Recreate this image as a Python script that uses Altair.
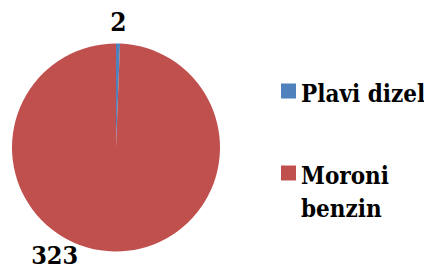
import altair as alt
import pandas as pd

categories = ["Plavi dizel", "Moroni benzin"]
values = [2, 323]
legend_texts = ["Plavi dizel", "Moroni\nbenzin"]
colors = ["#4F81BD", "#C0504D"]

df = pd.DataFrame({
    "category": categories,
    "value": values,
    "legend_text": legend_texts,
    "idx": list(range(len(categories))),
})

FONT = "DejaVu Serif Condensed"
CX, CY, R = 108, 139.5, 104

color = alt.Color("category:N", scale=alt.Scale(domain=categories, range=colors), legend=None)
theta = alt.Theta("value:Q", stack=True)
order = alt.Order("idx:Q")

base = alt.Chart(df)

pie = base.mark_arc(radius=R).encode(
    theta=theta, color=color, order=order,
    x=alt.value(CX), y=alt.value(CY),
)

label_common = dict(color="black", baseline="middle", align="center", font=FONT, fontWeight="bold")

lab1 = base.mark_text(radius=125, fontSize=26, **label_common).encode(
    theta=theta, order=order, text="value:Q",
    x=alt.value(CX), y=alt.value(CY),
    opacity=alt.condition(alt.datum.category == "Plavi dizel", alt.value(1), alt.value(0)),
)
lab2 = base.mark_text(radius=124, dx=-59, dy=-15, fontSize=25, **label_common).encode(
    theta=theta, order=order, text="value:Q",
    x=alt.value(CX), y=alt.value(CY),
    opacity=alt.condition(alt.datum.category == "Moroni benzin", alt.value(1), alt.value(0)),
)

ypos = alt.Y("category:N", scale=alt.Scale(type="point", domain=categories, range=[83, 165], padding=0), axis=None)

leg_sym = base.mark_square(size=225, opacity=1).encode(
    x=alt.value(280.5), y=ypos, color=color,
)
leg_txt = base.mark_text(
    align="left", baseline="alphabetic", lineBreak="\n", lineHeight=33, dy=11,
    font=FONT, fontSize=24, fontWeight="bold", color="black",
).encode(x=alt.value(293), y=ypos, text="legend_text:N")

chart = alt.layer(pie, lab1, lab2, leg_sym, leg_txt).properties(
    width=416, height=261, autosize=alt.AutoSizeParams(type="none"), padding=0,
).configure_view(stroke=None)

chart.save("out.html", embed_options={"renderer": "svg", "actions": False})
